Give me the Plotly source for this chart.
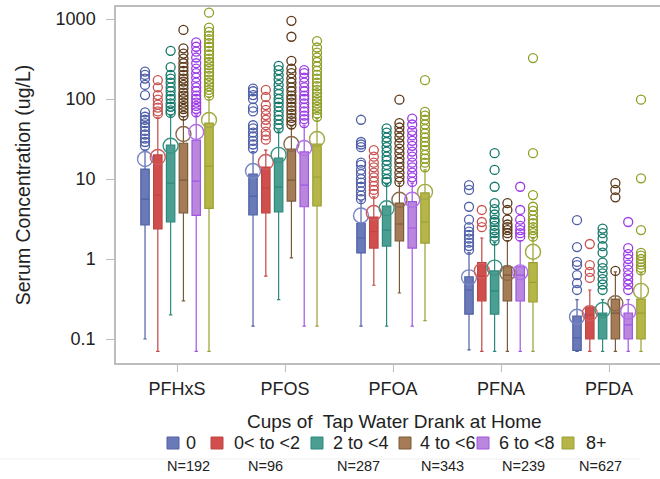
import plotly.graph_objects as go

compounds = ["PFHxS", "PFOS", "PFOA", "PFNA", "PFDA"]
groups = ["0", "0< to <2", "2 to <4", "4 to <6", "6 to <8", "8+"]
group_n = [192, 96, 287, 343, 239, 627]

# Summary statistics, one row per water-intake group, one column per compound
q1_vals = [
    [2.66, 3.55, 1.19, 0.205, 0.072],
    [2.37, 3.76, 1.37, 0.30, 0.10],
    [2.9, 3.87, 1.45, 0.205, 0.10],
    [3.76, 5.3, 1.68, 0.30, 0.10],
    [3.5, 4.5, 1.37, 0.30, 0.10],
    [4.3, 4.6, 1.58, 0.29, 0.10],
]
median_vals = [
    [5.6, 6.1, 1.83, 0.41, 0.103],
    [6.3, 7.7, 2.2, 0.61, 0.20],
    [8.9, 7.9, 2.3, 0.40, 0.20],
    [9.7, 9.7, 2.74, 0.63, 0.21],
    [9.4, 8.4, 2.44, 0.63, 0.15],
    [14.5, 10.6, 2.9, 0.51, 0.21],
]
q3_vals = [
    [13.3, 11.5, 2.8, 0.60, 0.194],
    [20.0, 14.1, 3.35, 0.90, 0.25],
    [26.6, 18.3, 4.6, 0.71, 0.21],
    [28.0, 23.7, 5.0, 0.80, 0.316],
    [30.7, 21.8, 5.2, 0.80, 0.21],
    [50.0, 27.4, 6.7, 0.90, 0.316],
]
whisker_low = [
    [0.10, 0.145, 0.145, 0.073, 0.07],
    [0.07, 0.61, 0.47, 0.07, 0.07],
    [0.20, 0.31, 0.145, 0.07, 0.07],
    [0.30, 1.03, 0.376, 0.07, 0.07],
    [0.07, 0.145, 0.145, 0.07, 0.07],
    [0.07, 0.145, 0.17, 0.07, 0.07],
]
whisker_high = [
    [23, 22, 5.3, 1.2, 0.31],
    [58, 23, 6.0, 1.83, 0.41],
    [62, 40, 8.5, 1.6, 0.31],
    [60, 45, 8.8, 1.7, 0.69],
    [63, 47, 8.8, 1.7, 0.31],
    [105, 57, 13, 1.8, 0.67],
]
mean_vals = [
    [17.8, 12.6, 3.5, 0.59, 0.19],
    [18.8, 16.3, 3.76, 0.71, 0.21],
    [26.0, 20.0, 4.3, 0.78, 0.23],
    [36.5, 27.4, 5.5, 0.67, 0.28],
    [38.7, 24.4, 5.5, 0.68, 0.22],
    [54.6, 31.6, 6.9, 1.23, 0.40],
]

# Outlying observations per compound, one list per water-intake group
outliers_pfhxs = [
    [26, 29, 32, 36, 40, 45, 50, 55, 60, 68, 112, 150, 180, 200, 220],
    [65, 70, 78, 85, 98, 112, 140, 172],
    [67, 72, 80, 88, 100, 110, 125, 140, 160, 180, 200, 250, 400],
    [62, 68, 75, 82, 90, 100, 110, 120, 135, 150, 165, 180, 200, 225, 250,
     280, 320, 370, 430, 730],
    [68, 75, 82, 90, 100, 110, 125, 140, 160, 185, 210, 240, 280, 330, 390,
     450, 510],
    [110, 120, 130, 145, 160, 175, 195, 215, 240, 265, 290, 320, 360, 400,
     450, 500, 560, 620, 690, 780, 1200],
]
outliers_pfos = [
    [24, 27, 30, 34, 38, 43, 47, 70, 78, 100, 112, 125, 135],
    [31, 35, 39, 47, 55, 63, 73, 84, 106, 130],
    [43, 48, 55, 62, 70, 80, 90, 100, 115, 130, 150, 175, 200, 230, 260],
    [48, 53, 58, 65, 72, 80, 90, 100, 110, 125, 140, 160, 180, 210, 240,
     300, 600, 950],
    [50, 56, 62, 70, 78, 88, 100, 110, 125, 140, 160, 185, 210, 230],
    [60, 66, 73, 80, 88, 97, 107, 118, 130, 145, 160, 180, 200, 225, 255,
     290, 330, 380, 440, 530],
]
outliers_pfoa = [
    [5.6, 6.2, 7.0, 8.0, 9.0, 10, 11.5, 13, 15, 16, 25, 27, 29, 55],
    [6.5, 7.3, 8.2, 9.3, 10.5, 12, 14, 16, 19, 23],
    [9.2, 10, 11.5, 13, 15, 17, 19, 22, 25, 29, 33, 38, 43],
    [9.2, 10.5, 12, 14, 16, 18, 21, 24, 28, 33, 38, 44, 50, 98],
    [9.2, 10.5, 12, 14, 16, 19, 22, 26, 30, 35, 40, 48, 57],
    [14, 16, 18, 20, 23, 26, 29, 33, 37, 42, 48, 55, 62, 69, 172],
]
outliers_pfna = [
    [1.3, 1.45, 1.6, 1.8, 2.0, 2.2, 2.5, 3.1, 4.5, 7.3, 8.4],
    [2.5, 2.9, 4.1],
    [1.7, 1.9, 2.1, 2.3, 2.6, 2.9, 3.1, 3.6, 4.2, 5.0, 8.0, 13, 21],
    [1.9, 2.1, 2.3, 2.5, 2.7, 3.1, 4.1, 5.0],
    [1.9, 2.1, 2.3, 2.6, 3.1, 4.1, 8.0],
    [1.9, 2.1, 2.3, 2.5, 2.8, 3.1, 3.5, 4.0, 4.5, 6.3, 21, 325],
]
outliers_pfda = [
    [0.41, 0.5, 0.63, 0.84, 0.92, 1.41, 3.06],
    [0.58, 0.69, 0.84, 1.54],
    [0.41, 0.48, 0.56, 0.66, 0.77, 0.9, 1.2, 1.45, 1.8, 2.1, 2.4],
    [0.71, 5.9, 7.3, 8.9],
    [0.41, 0.48, 0.55, 0.63, 0.73, 0.85, 1.0, 1.15, 1.37, 2.9],
    [0.72, 0.78, 0.85, 0.92, 1.0, 1.1, 1.19, 2.3, 10.2, 98],
]
outliers_by_compound = [outliers_pfhxs, outliers_pfos, outliers_pfoa,
                        outliers_pfna, outliers_pfda]

# Styling per group
fill_colors = ["#6a7ab8", "#d04e4c", "#4b9e92", "#a57c55", "#b987de", "#b5b548"]
line_colors = ["#5060a6", "#c24444", "#2d8a7c", "#7a5a3a", "#a255e2", "#9aa034"]
point_colors = ["#4f5fa8", "#c85252", "#13786a", "#5a3818", "#9b3be6", "#8f9e25"]
mean_colors = ["#7886c6", "#d05e5e", "#3a9484", "#8a6a4a", "#b070e8", "#a0aa40"]

FONT = "Liberation Sans, Arial, sans-serif"
step = 0.1185
offsets = [(g - 2.5) * step for g in range(len(groups))]

fig = go.Figure()

for g in range(len(groups)):
    xs = [c + offsets[g] for c in range(len(compounds))]
    fig.add_trace(go.Box(
        x=xs,
        q1=q1_vals[g], median=median_vals[g], q3=q3_vals[g],
        lowerfence=whisker_low[g], upperfence=whisker_high[g],
        boxpoints=False, width=0.078, whiskerwidth=0.4,
        fillcolor=fill_colors[g],
        line=dict(color=line_colors[g], width=1.2),
        name=groups[g], showlegend=False, hoverinfo="skip",
    ))

for g in range(len(groups)):
    px, py = [], []
    for c in range(len(compounds)):
        vals = outliers_by_compound[c][g]
        px.extend([c + offsets[g]] * len(vals))
        py.extend(vals)
    fig.add_trace(go.Scatter(
        x=px, y=py, mode="markers", showlegend=False, hoverinfo="skip",
        marker=dict(symbol="circle-open", size=9, color=point_colors[g],
                    line=dict(width=1.3, color=point_colors[g])),
    ))

for g in range(len(groups)):
    xs = [c + offsets[g] for c in range(len(compounds))]
    fig.add_trace(go.Scatter(
        x=xs, y=mean_vals[g], mode="markers", showlegend=False,
        hoverinfo="skip",
        marker=dict(symbol="circle-open", size=15, color=mean_colors[g],
                    line=dict(width=1.4, color=mean_colors[g])),
    ))

# Plot area in pixels: x 116..660, y 7..363
L, R, T, B = 116, 660, 7, 363


def paper_x(p):
    return (p - L) / (R - L)


def paper_y(p):
    return (B - p) / (B - T)


# Legend: coloured squares with labels, and sample sizes underneath
square_cx = [173, 217, 317, 405, 483, 568]
label_x = [184, 232, 331, 418, 497, 584]
n_cx = [188, 265, 358, 442, 523, 600]
shapes = []
annotations = [dict(
    text="Cups of\u00a0 Tap Water Drank at Home", x=paper_x(394), y=paper_y(422),
    xref="paper", yref="paper", xanchor="center", yanchor="middle",
    showarrow=False, font=dict(family=FONT, size=19, color="#222"),
)]
for g in range(len(groups)):
    shapes.append(dict(
        type="rect", xref="paper", yref="paper",
        x0=paper_x(square_cx[g] - 6), x1=paper_x(square_cx[g] + 6),
        y0=paper_y(449), y1=paper_y(437),
        fillcolor=fill_colors[g], line=dict(color=line_colors[g], width=1),
    ))
    annotations.append(dict(
        text=groups[g], x=paper_x(label_x[g]), y=paper_y(443),
        xref="paper", yref="paper", xanchor="left", yanchor="middle",
        showarrow=False, font=dict(family=FONT, size=18, color="#222"),
    ))
    annotations.append(dict(
        text=f"N={group_n[g]}", x=paper_x(n_cx[g]), y=paper_y(466),
        xref="paper", yref="paper", xanchor="center", yanchor="middle",
        showarrow=False, font=dict(family=FONT, size=14.5, color="#222"),
    ))
shapes.append(dict(
    type="line", xref="paper", yref="paper",
    x0=paper_x(0), x1=paper_x(640), y0=paper_y(459), y1=paper_y(459),
    line=dict(color="#efefef", width=1),
))

fig.update_layout(
    width=660, height=479,
    margin=dict(l=L, r=660 - R, t=T, b=479 - B),
    paper_bgcolor="white", plot_bgcolor="white",
    showlegend=False, shapes=shapes, annotations=annotations,
    font=dict(family=FONT, color="#222"),
    xaxis=dict(
        range=[-0.565, (R - 177) / 108],
        tickvals=list(range(len(compounds))), ticktext=compounds,
        showgrid=False, zeroline=False,
        showline=True, linecolor="#bdbdbd", linewidth=1.5, mirror=True,
        ticks="outside", ticklen=7, tickcolor="#bdbdbd", tickwidth=1.2,
        tickfont=dict(family=FONT, size=18, color="#222"),
        ticklabelstandoff=2,
    ),
    yaxis=dict(
        type="log", range=[-1.3, 3.15],
        tickvals=[0.1, 1, 10, 100, 1000],
        ticktext=["0.1", "1", "10", "100", "1000"],
        showgrid=False, zeroline=False,
        showline=True, linecolor="#bdbdbd", linewidth=1.5,
        ticks="outside", ticklen=8, tickcolor="#bdbdbd", tickwidth=1.2,
        tickfont=dict(family=FONT, size=18, color="#222"),
        ticklabelstandoff=7,
        title=dict(text="Serum Concentration (ug/L)", standoff=20,
                   font=dict(family=FONT, size=19.5, color="#222")),
    ),
)

fig.write_html("out.html")
